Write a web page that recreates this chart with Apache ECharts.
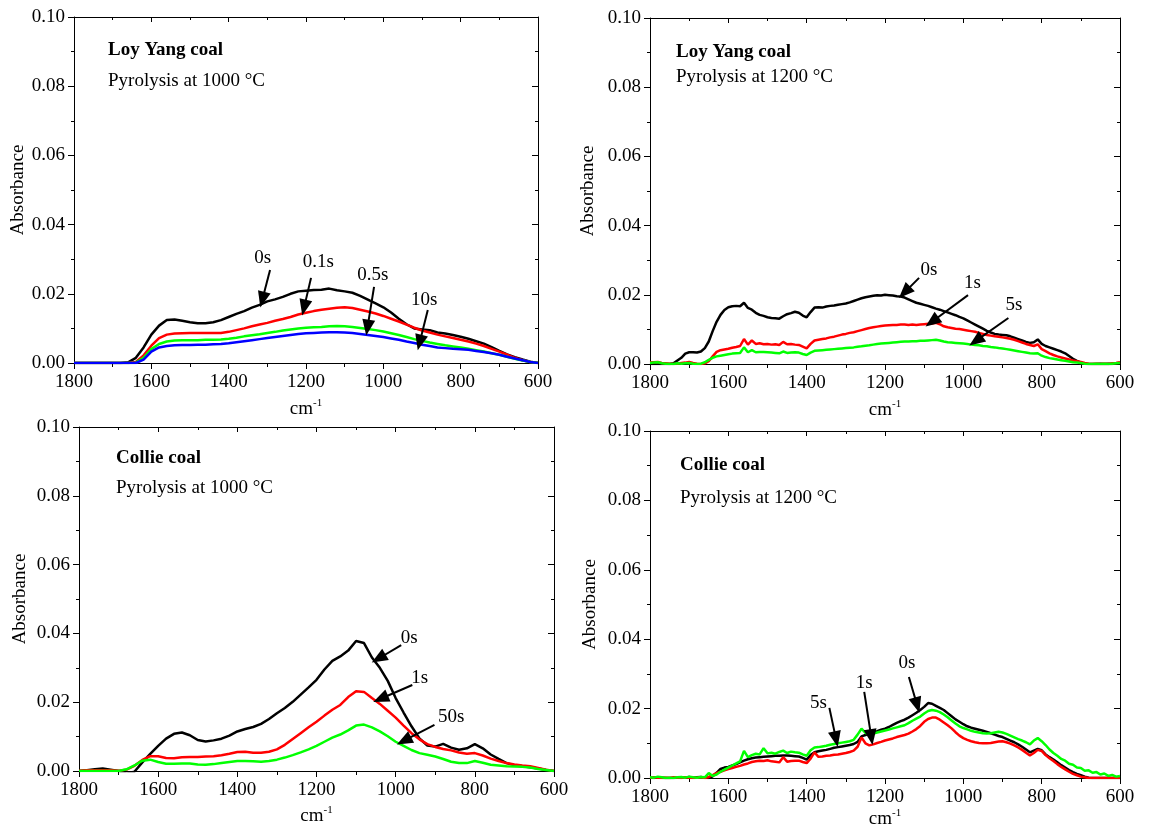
<!DOCTYPE html>
<html>
<head>
<meta charset="utf-8">
<script src="https://cdn.jsdelivr.net/npm/echarts@6/dist/echarts.min.js"></script>
<style>
  html, body { margin: 0; padding: 0; background: #fff; }
  #chart { width: 1149px; height: 834px; }
</style>
</head>
<body>
<div id="chart"></div>
<script>
// Wavenumber grids (cm-1)
const wn20 = [1800,1780,1760,1740,1720,1700,1680,1660,1640,1620,1600,1580,1560,1540,1520,1500,1480,1460,1440,1420,
  1400,1380,1360,1340,1320,1300,1280,1260,1240,1220,1200,1180,1160,1140,1120,1100,1080,1060,1040,1020,
  1000,980,960,940,920,900,880,860,840,820,800,780,760,740,720,700,680,660,640,620,600];
const wn10 = [1800,1790,1780,1770,1760,1750,1740,1730,1720,1710,1700,1690,1680,1670,1660,1650,1640,1630,1620,1610,
  1600,1590,1580,1570,1560,1550,1540,1530,1520,1510,1500,1490,1480,1470,1460,1450,1440,1430,1420,1410,
  1400,1390,1380,1370,1360,1350,1340,1330,1320,1310,1300,1290,1280,1270,1260,1250,1240,1230,1220,1210,
  1200,1190,1180,1170,1160,1150,1140,1130,1120,1110,1100,1090,1080,1070,1060,1050,1040,1030,1020,1010,
  1000,990,980,970,960,950,940,930,920,910,900,890,880,870,860,850,840,830,820,810,
  800,790,780,770,760,750,740,730,720,710,700,690,680,670,660,650,640,630,620,610,600];

// Loy Yang coal, pyrolysis at 1000 °C (wn20)
const ly1000_0s = [0,0,0,0,0,0,0,0.0002,0.0015,0.0045,0.0082,0.0108,0.0124,0.0126,0.0122,0.0118,0.0115,0.0115,0.0118,0.0124,
  0.0133,0.0142,0.0150,0.0160,0.0168,0.0178,0.0184,0.0191,0.0200,0.0207,0.0209,0.0211,0.0212,0.0215,0.0210,0.0207,0.0203,0.0194,0.0183,0.0172,
  0.0161,0.0146,0.0128,0.0112,0.0100,0.0097,0.0095,0.0088,0.0085,0.0081,0.0076,0.0070,0.0063,0.0056,0.0046,0.0035,0.0025,0.0017,0.0010,0.0004,0];
const ly1000_01s = [0,0,0,0,0,0,0,0,0.0003,0.0022,0.0050,0.0072,0.0082,0.0085,0.0086,0.0087,0.0087,0.0087,0.0087,0.0087,
  0.0090,0.0095,0.0100,0.0106,0.0111,0.0116,0.0122,0.0127,0.0133,0.0140,0.0145,0.0150,0.0154,0.0157,0.0160,0.0161,0.0159,0.0154,0.0149,0.0143,
  0.0136,0.0128,0.0120,0.0111,0.0102,0.0094,0.0088,0.0082,0.0077,0.0072,0.0067,0.0062,0.0056,0.0049,0.0041,0.0033,0.0024,0.0015,0.0008,0.0003,0];
const ly1000_05s = [0,0,0,0,0,0,0,0,0.0001,0.0015,0.0040,0.0055,0.0062,0.0065,0.0066,0.0066,0.0066,0.0067,0.0067,0.0068,
  0.0070,0.0073,0.0077,0.0080,0.0083,0.0087,0.0090,0.0094,0.0097,0.0100,0.0102,0.0103,0.0104,0.0106,0.0107,0.0106,0.0104,0.0101,0.0098,0.0095,
  0.0091,0.0086,0.0081,0.0075,0.0069,0.0064,0.0059,0.0055,0.0051,0.0048,0.0045,0.0041,0.0037,0.0033,0.0028,0.0024,0.0018,0.0012,0.0007,0.0003,0];
const ly1000_10s = [0,0,0,0,0,0,0,0,0,0.0010,0.0033,0.0045,0.0049,0.0051,0.0052,0.0052,0.0053,0.0053,0.0054,0.0055,
  0.0057,0.0060,0.0063,0.0066,0.0069,0.0072,0.0075,0.0078,0.0081,0.0084,0.0086,0.0087,0.0088,0.0089,0.0089,0.0088,0.0087,0.0084,0.0081,0.0078,
  0.0075,0.0071,0.0067,0.0062,0.0058,0.0053,0.0049,0.0045,0.0043,0.0041,0.0040,0.0038,0.0035,0.0032,0.0028,0.0024,0.0018,0.0013,0.0008,0.0003,0];

// Loy Yang coal, pyrolysis at 1200 °C (wn10)
const ly1200_0s = [
  0.0000,0.0001,0.0000,0.0001,0.0000,0.0000,0.0002,0.0010,0.0018,0.0030,
  0.0034,0.0034,0.0033,0.0036,0.0046,0.0065,0.0095,0.0122,0.0142,0.0156,
  0.0164,0.0167,0.0168,0.0167,0.0177,0.0162,0.0157,0.0148,0.0142,0.0139,
  0.0135,0.0133,0.0132,0.0131,0.0138,0.0144,0.0147,0.0151,0.0148,0.0140,
  0.0135,0.0150,0.0163,0.0164,0.0163,0.0166,0.0168,0.0169,0.0171,0.0173,
  0.0175,0.0178,0.0182,0.0186,0.0190,0.0193,0.0195,0.0197,0.0199,0.0198,
  0.0200,0.0199,0.0198,0.0196,0.0195,0.0192,0.0187,0.0182,0.0177,0.0174,
  0.0171,0.0168,0.0164,0.0160,0.0157,0.0153,0.0149,0.0145,0.0141,0.0136,
  0.0132,0.0126,0.0120,0.0114,0.0108,0.0102,0.0096,0.0091,0.0087,0.0085,
  0.0084,0.0083,0.0080,0.0076,0.0072,0.0068,0.0064,0.0061,0.0063,0.0071,
  0.0058,0.0052,0.0048,0.0044,0.0040,0.0036,0.0031,0.0023,0.0015,0.0009,
  0.0004,0.0001,0.0000,0.0000,0.0000,0.0001,0.0000,0.0001,0.0000,0.0002,
  0.0003];
const ly1200_1s = [
  0.0004,0.0005,0.0006,0.0003,0.0002,0.0001,0.0000,0.0001,0.0003,0.0004,
  0.0006,0.0003,0.0001,0.0000,0.0002,0.0008,0.0022,0.0035,0.0040,0.0042,
  0.0044,0.0047,0.0049,0.0052,0.0072,0.0056,0.0068,0.0058,0.0060,0.0057,
  0.0058,0.0056,0.0057,0.0055,0.0064,0.0057,0.0058,0.0056,0.0055,0.0050,
  0.0045,0.0058,0.0068,0.0070,0.0072,0.0074,0.0077,0.0079,0.0082,0.0085,
  0.0087,0.0090,0.0092,0.0095,0.0098,0.0101,0.0104,0.0106,0.0108,0.0110,
  0.0111,0.0112,0.0113,0.0113,0.0114,0.0114,0.0113,0.0114,0.0113,0.0114,
  0.0115,0.0116,0.0117,0.0119,0.0115,0.0109,0.0106,0.0104,0.0102,0.0101,
  0.0099,0.0097,0.0095,0.0093,0.0090,0.0087,0.0084,0.0082,0.0080,0.0079,
  0.0077,0.0075,0.0073,0.0070,0.0066,0.0062,0.0058,0.0055,0.0052,0.0057,
  0.0043,0.0037,0.0031,0.0026,0.0022,0.0019,0.0016,0.0013,0.0010,0.0008,
  0.0006,0.0003,0.0001,0.0000,0.0001,0.0000,0.0001,0.0000,0.0002,0.0003,
  0.0005];
const ly1200_5s = [
  0.0003,0.0004,0.0005,0.0002,0.0001,0.0000,0.0000,0.0002,0.0001,0.0002,
  0.0003,0.0001,0.0000,0.0001,0.0005,0.0012,0.0018,0.0022,0.0024,0.0026,
  0.0028,0.0030,0.0031,0.0032,0.0048,0.0034,0.0040,0.0034,0.0035,0.0035,
  0.0034,0.0033,0.0032,0.0031,0.0036,0.0032,0.0033,0.0034,0.0033,0.0029,
  0.0026,0.0033,0.0038,0.0039,0.0040,0.0041,0.0042,0.0043,0.0044,0.0045,
  0.0046,0.0047,0.0048,0.0050,0.0051,0.0053,0.0054,0.0056,0.0058,0.0059,
  0.0060,0.0061,0.0062,0.0063,0.0064,0.0065,0.0065,0.0066,0.0066,0.0067,
  0.0067,0.0068,0.0069,0.0070,0.0068,0.0065,0.0063,0.0062,0.0061,0.0060,
  0.0059,0.0058,0.0056,0.0055,0.0054,0.0052,0.0051,0.0049,0.0048,0.0046,
  0.0045,0.0043,0.0041,0.0039,0.0037,0.0035,0.0033,0.0031,0.0030,0.0031,
  0.0024,0.0020,0.0017,0.0015,0.0013,0.0011,0.0009,0.0007,0.0005,0.0004,
  0.0003,0.0001,0.0000,0.0000,0.0001,0.0000,0.0001,0.0000,0.0001,0.0002,
  0.0003];

// Collie coal, pyrolysis at 1000 °C (wn20)
const co1000_0s = [0.0000,0.0002,0.0005,0.0007,0.0004,0.0000,-0.0008,-0.0002,0.0025,0.0050,0.0073,0.0094,0.0108,0.0112,0.0104,0.0090,0.0086,0.0089,0.0094,0.0103,
  0.0115,0.0122,0.0128,0.0137,0.0151,0.0168,0.0183,0.0201,0.0222,0.0243,0.0265,0.0295,0.0320,0.0333,0.0350,0.0378,0.0372,0.0330,0.0300,0.0262,
  0.0212,0.0170,0.0130,0.0095,0.0074,0.0071,0.0079,0.0068,0.0062,0.0066,0.0078,0.0066,0.0048,0.0035,0.0023,0.0017,0.0014,0.0011,0.0007,0.0003,0.0000];
const co1000_1s = [0.0001,0.0002,0.0002,0.0002,0.0002,0.0001,0.0004,0.0015,0.0032,0.0043,0.0043,0.0038,0.0037,0.0040,0.0041,0.0041,0.0042,0.0043,0.0046,0.0050,
  0.0055,0.0056,0.0053,0.0053,0.0056,0.0063,0.0076,0.0093,0.0110,0.0127,0.0143,0.0161,0.0178,0.0192,0.0215,0.0232,0.0230,0.0212,0.0195,0.0175,
  0.0155,0.0132,0.0110,0.0092,0.0078,0.0070,0.0064,0.0060,0.0054,0.0050,0.0052,0.0045,0.0036,0.0029,0.0023,0.0019,0.0016,0.0014,0.0009,0.0004,0.0000];
const co1000_50s = [0.0000,0.0000,0.0000,0.0000,0.0000,0.0000,0.0005,0.0016,0.0030,0.0033,0.0026,0.0021,0.0021,0.0022,0.0022,0.0019,0.0018,0.0020,0.0023,0.0026,
  0.0029,0.0029,0.0028,0.0027,0.0029,0.0033,0.0039,0.0046,0.0054,0.0063,0.0073,0.0085,0.0097,0.0106,0.0118,0.0132,0.0135,0.0127,0.0115,0.0101,
  0.0085,0.0073,0.0061,0.0052,0.0047,0.0042,0.0035,0.0027,0.0023,0.0023,0.0029,0.0024,0.0018,0.0016,0.0014,0.0013,0.0012,0.0010,0.0006,0.0003,0.0000];

// Collie coal, pyrolysis at 1200 °C (wn10)
const co1200_0s = [
  0.0001,0.0000,0.0002,0.0001,0.0000,0.0000,0.0000,0.0001,0.0002,0.0001,
  0.0003,0.0001,0.0002,0.0003,0.0001,0.0000,0.0005,0.0015,0.0026,0.0030,
  0.0032,0.0036,0.0040,0.0045,0.0050,0.0054,0.0057,0.0059,0.0060,0.0061,
  0.0062,0.0063,0.0064,0.0064,0.0065,0.0065,0.0064,0.0063,0.0062,0.0058,
  0.0053,0.0066,0.0074,0.0077,0.0079,0.0081,0.0084,0.0087,0.0089,0.0091,
  0.0093,0.0095,0.0098,0.0104,0.0120,0.0124,0.0128,0.0132,0.0135,0.0139,
  0.0142,0.0147,0.0153,0.0159,0.0164,0.0168,0.0174,0.0181,0.0188,0.0196,
  0.0205,0.0216,0.0214,0.0208,0.0202,0.0196,0.0187,0.0178,0.0169,0.0162,
  0.0155,0.0149,0.0145,0.0142,0.0139,0.0136,0.0133,0.0129,0.0125,0.0121,
  0.0118,0.0113,0.0108,0.0103,0.0097,0.0090,0.0082,0.0074,0.0079,0.0084,
  0.0080,0.0068,0.0060,0.0053,0.0045,0.0037,0.0030,0.0023,0.0017,0.0012,
  0.0008,0.0004,0.0001,0.0000,0.0000,0.0000,0.0000,0.0000,0.0000,0.0000,
  0.0000];
const co1200_1s = [
  0.0000,0.0002,0.0001,0.0000,0.0001,0.0000,0.0002,0.0001,0.0000,0.0002,
  0.0001,0.0000,0.0001,0.0002,0.0000,0.0003,0.0008,0.0014,0.0018,0.0022,
  0.0026,0.0029,0.0032,0.0035,0.0039,0.0042,0.0046,0.0048,0.0050,0.0049,
  0.0051,0.0048,0.0047,0.0045,0.0060,0.0047,0.0049,0.0050,0.0050,0.0046,
  0.0043,0.0056,0.0074,0.0061,0.0062,0.0064,0.0065,0.0067,0.0068,0.0070,
  0.0072,0.0075,0.0079,0.0090,0.0117,0.0100,0.0094,0.0097,0.0101,0.0104,
  0.0108,0.0111,0.0114,0.0118,0.0121,0.0124,0.0128,0.0134,0.0141,0.0150,
  0.0162,0.0170,0.0174,0.0174,0.0168,0.0160,0.0152,0.0143,0.0132,0.0122,
  0.0115,0.0110,0.0106,0.0103,0.0101,0.0100,0.0100,0.0101,0.0103,0.0105,
  0.0106,0.0103,0.0099,0.0094,0.0088,0.0081,0.0073,0.0065,0.0072,0.0081,
  0.0078,0.0066,0.0057,0.0049,0.0040,0.0032,0.0025,0.0018,0.0012,0.0008,
  0.0004,0.0002,0.0000,0.0000,0.0000,0.0000,0.0000,0.0000,0.0000,0.0000,
  0.0000];
const co1200_5s = [
  0.0002,0.0001,0.0004,0.0002,0.0000,0.0001,0.0000,0.0002,0.0003,0.0001,
  0.0004,0.0002,0.0001,0.0003,0.0002,0.0014,0.0006,0.0010,0.0018,0.0024,
  0.0030,0.0036,0.0042,0.0048,0.0078,0.0060,0.0066,0.0070,0.0068,0.0086,
  0.0071,0.0073,0.0070,0.0075,0.0079,0.0072,0.0076,0.0074,0.0073,0.0068,
  0.0064,0.0080,0.0088,0.0089,0.0091,0.0093,0.0096,0.0098,0.0100,0.0102,
  0.0104,0.0106,0.0110,0.0125,0.0142,0.0130,0.0125,0.0128,0.0131,0.0134,
  0.0137,0.0140,0.0143,0.0146,0.0149,0.0152,0.0158,0.0165,0.0171,0.0177,
  0.0186,0.0193,0.0196,0.0194,0.0190,0.0183,0.0175,0.0166,0.0157,0.0149,
  0.0144,0.0140,0.0136,0.0133,0.0131,0.0129,0.0128,0.0129,0.0131,0.0133,
  0.0131,0.0127,0.0122,0.0117,0.0112,0.0108,0.0103,0.0097,0.0108,0.0115,
  0.0106,0.0095,0.0082,0.0072,0.0064,0.0055,0.0050,0.0041,0.0038,0.0030,
  0.0029,0.0021,0.0022,0.0015,0.0017,0.0010,0.0013,0.0006,0.0009,0.0004,
  0.0006];

// Residence-time call-outs: label anchor, arrow tail and arrow tip in data units
const ly1000Notes = [
  { label: '0s',   text: [1312, 0.0303], tail: [1293, 0.0269], tip: [1313, 0.0183] },
  { label: '0.1s', text: [1168, 0.0292], tail: [1187, 0.0246], tip: [1205, 0.0160] },
  { label: '0.5s', text: [1027, 0.0254], tail: [1024, 0.0220], tip: [1041, 0.0102] },
  { label: '10s',  text: [894, 0.0182],  tail: [885, 0.0153],  tip: [906, 0.0059] }
];
const ly1200Notes = [
  { label: '0s', text: [1088, 0.0272], tail: [1113, 0.0249], tip: [1150, 0.0207] },
  { label: '1s', text: [977, 0.0234],  tail: [988, 0.0199],  tip: [1080, 0.0122] },
  { label: '5s', text: [871, 0.0171],  tail: [885, 0.0133],  tip: [968, 0.0067] }
];
const co1000Notes = [
  { label: '0s',  text: [966, 0.0387], tail: [986, 0.0366], tip: [1043, 0.0327] },
  { label: '1s',  text: [939, 0.0270], tail: [958, 0.0250], tip: [1038, 0.0210] },
  { label: '50s', text: [860, 0.0157], tail: [902, 0.0134], tip: [979, 0.0088] }
];
const co1200Notes = [
  { label: '0s', text: [1144, 0.0331], tail: [1139, 0.0291], tip: [1118, 0.0210] },
  { label: '1s', text: [1253, 0.0274], tail: [1253, 0.0248], tip: [1235, 0.0118] },
  { label: '5s', text: [1370, 0.0216], tail: [1342, 0.0202], tip: [1325, 0.0112] }
];

const yTicks = [0, 0.02, 0.04, 0.06, 0.08, 0.10];
const xTicks = [1800, 1600, 1400, 1200, 1000, 800, 600];

const FONT = '"Liberation Serif", "Times New Roman", serif';
const FS = 19;
const BLACK = '#000000', RED = '#ff0000', GREEN = '#00ff00', BLUE = '#0000ff';

const panels = [
  { grid: { left: 74, top: 17, width: 464, height: 346 }, wn: wn20,
    lines: [[ly1000_0s, BLACK], [ly1000_01s, RED], [ly1000_05s, GREEN], [ly1000_10s, BLUE]],
    heading: ['Loy Yang coal', 'Pyrolysis at 1000 °C'], hx: 108, hy: [50, 81],
    yGap: 44, xGap: 35, notes: ly1000Notes },
  { grid: { left: 650, top: 18, width: 470, height: 346 }, wn: wn10,
    lines: [[ly1200_0s, BLACK], [ly1200_1s, RED], [ly1200_5s, GREEN]],
    heading: ['Loy Yang coal', 'Pyrolysis at 1200 °C'], hx: 676, hy: [52, 77],
    yGap: 52, xGap: 35, notes: ly1200Notes },
  { grid: { left: 79, top: 427, width: 475, height: 344 }, wn: wn20,
    lines: [[co1000_0s, BLACK], [co1000_1s, RED], [co1000_50s, GREEN]],
    heading: ['Collie coal', 'Pyrolysis at 1000 °C'], hx: 116, hy: [458, 488],
    yGap: 49, xGap: 34, notes: co1000Notes },
  { grid: { left: 650, top: 431, width: 470, height: 347 }, wn: wn10,
    lines: [[co1200_0s, BLACK], [co1200_1s, RED], [co1200_5s, GREEN]],
    heading: ['Collie coal', 'Pyrolysis at 1200 °C'], hx: 680, hy: [465, 498],
    yGap: 50, xGap: 29, notes: co1200Notes }
];

const axisLine = { show: true, onZero: false, lineStyle: { color: '#000', width: 1 } };
const labelStyle = { fontFamily: FONT, fontSize: FS, color: '#000' };

const grids = [], xAxes = [], yAxes = [], series = [], graphics = [];

panels.forEach((p, i) => {
  grids.push(Object.assign({ containLabel: false, show: false }, p.grid));

  const xBase = {
    gridIndex: i, type: 'value', min: xTicks[xTicks.length - 1], max: xTicks[0],
    interval: 200, inverse: true, axisLine, splitLine: { show: false },
    minorTick: { show: true, splitNumber: 2, length: 4, lineStyle: { color: '#000' } }
  };
  xAxes.push(Object.assign({}, xBase, {
    position: 'bottom',
    axisTick: { show: true, inside: false, length: 6, lineStyle: { color: '#000' } },
    axisLabel: Object.assign({ margin: 10, showMinLabel: true, showMaxLabel: true,
                               formatter: v => String(v) }, labelStyle),
    name: '{a|cm}{b|-1}', nameLocation: 'middle', nameGap: p.xGap,
    nameTextStyle: {
      fontFamily: FONT, fontSize: FS, color: '#000',
      rich: {
        a: { fontFamily: FONT, fontSize: FS, color: '#000', lineHeight: 22 },
        b: { fontFamily: FONT, fontSize: 11, color: '#000', verticalAlign: 'top', lineHeight: 12 }
      }
    }
  }));
  xAxes.push(Object.assign({}, xBase, {
    position: 'top',
    axisTick: { show: true, inside: true, length: 5, lineStyle: { color: '#000' } },
    minorTick: { show: true, splitNumber: 2, length: 3, lineStyle: { color: '#000' } },
    axisLabel: { show: false }
  }));

  const yBase = {
    gridIndex: i, type: 'value', min: yTicks[0], max: yTicks[yTicks.length - 1],
    interval: 0.02, axisLine, splitLine: { show: false }
  };
  yAxes.push(Object.assign({}, yBase, {
    position: 'left',
    axisTick: { show: true, inside: false, length: 6, lineStyle: { color: '#000' } },
    minorTick: { show: true, splitNumber: 2, length: 3, lineStyle: { color: '#000' } },
    axisLabel: Object.assign({ margin: 9, formatter: v => v.toFixed(2) }, labelStyle),
    name: 'Absorbance', nameLocation: 'middle', nameGap: p.yGap, nameRotate: 90,
    nameTextStyle: labelStyle
  }));
  yAxes.push(Object.assign({}, yBase, {
    position: 'right',
    axisTick: { show: true, inside: true, length: 6, lineStyle: { color: '#000' } },
    minorTick: { show: true, splitNumber: 2, length: 3, lineStyle: { color: '#000' } },
    axisLabel: { show: false }
  }));

  p.lines.forEach(([ys, color], k) => {
    const s = {
      type: 'line', xAxisIndex: 2 * i, yAxisIndex: 2 * i,
      data: p.wn.map((x, j) => [x, ys[j]]),
      showSymbol: false, symbol: 'none', clip: true,
      lineStyle: { color, width: 2.5 }, itemStyle: { color },
      z: 2 + k, silent: true
    };
    if (k === 0) {
      s.markLine = {
        silent: true, animation: false, z: 10,
        symbol: ['none', 'triangle'], symbolSize: 14,
        lineStyle: { color: '#000', width: 2, type: 'solid' },
        itemStyle: { color: '#000' },
        label: { show: false },
        data: p.notes.map(n => [
          { coord: n.tail, symbol: 'none' },
          { coord: n.tip, symbol: 'triangle', symbolSize: [13, 16] }
        ])
      };
      s.markPoint = {
        silent: true, animation: false, z: 10,
        symbol: 'circle', symbolSize: 1,
        itemStyle: { color: 'rgba(0,0,0,0)' },
        label: { show: true, position: 'inside', formatter: q => q.name,
                 fontFamily: FONT, fontSize: FS, color: '#000' },
        data: p.notes.map(n => ({ name: n.label, coord: n.text }))
      };
    }
    series.push(s);
  });

  graphics.push({ type: 'text', x: p.hx, y: p.hy[0],
    style: { text: p.heading[0], font: 'bold ' + FS + 'px ' + FONT, fill: '#000', verticalAlign: 'middle' } });
  graphics.push({ type: 'text', x: p.hx, y: p.hy[1],
    style: { text: p.heading[1], font: FS + 'px ' + FONT, fill: '#000', verticalAlign: 'middle' } });
});

const chart = echarts.init(document.getElementById('chart'), null, { renderer: 'canvas' });
chart.setOption({
  animation: false,
  backgroundColor: '#fff',
  grid: grids, xAxis: xAxes, yAxis: yAxes, series, graphic: graphics
});
</script>
</body>
</html>
